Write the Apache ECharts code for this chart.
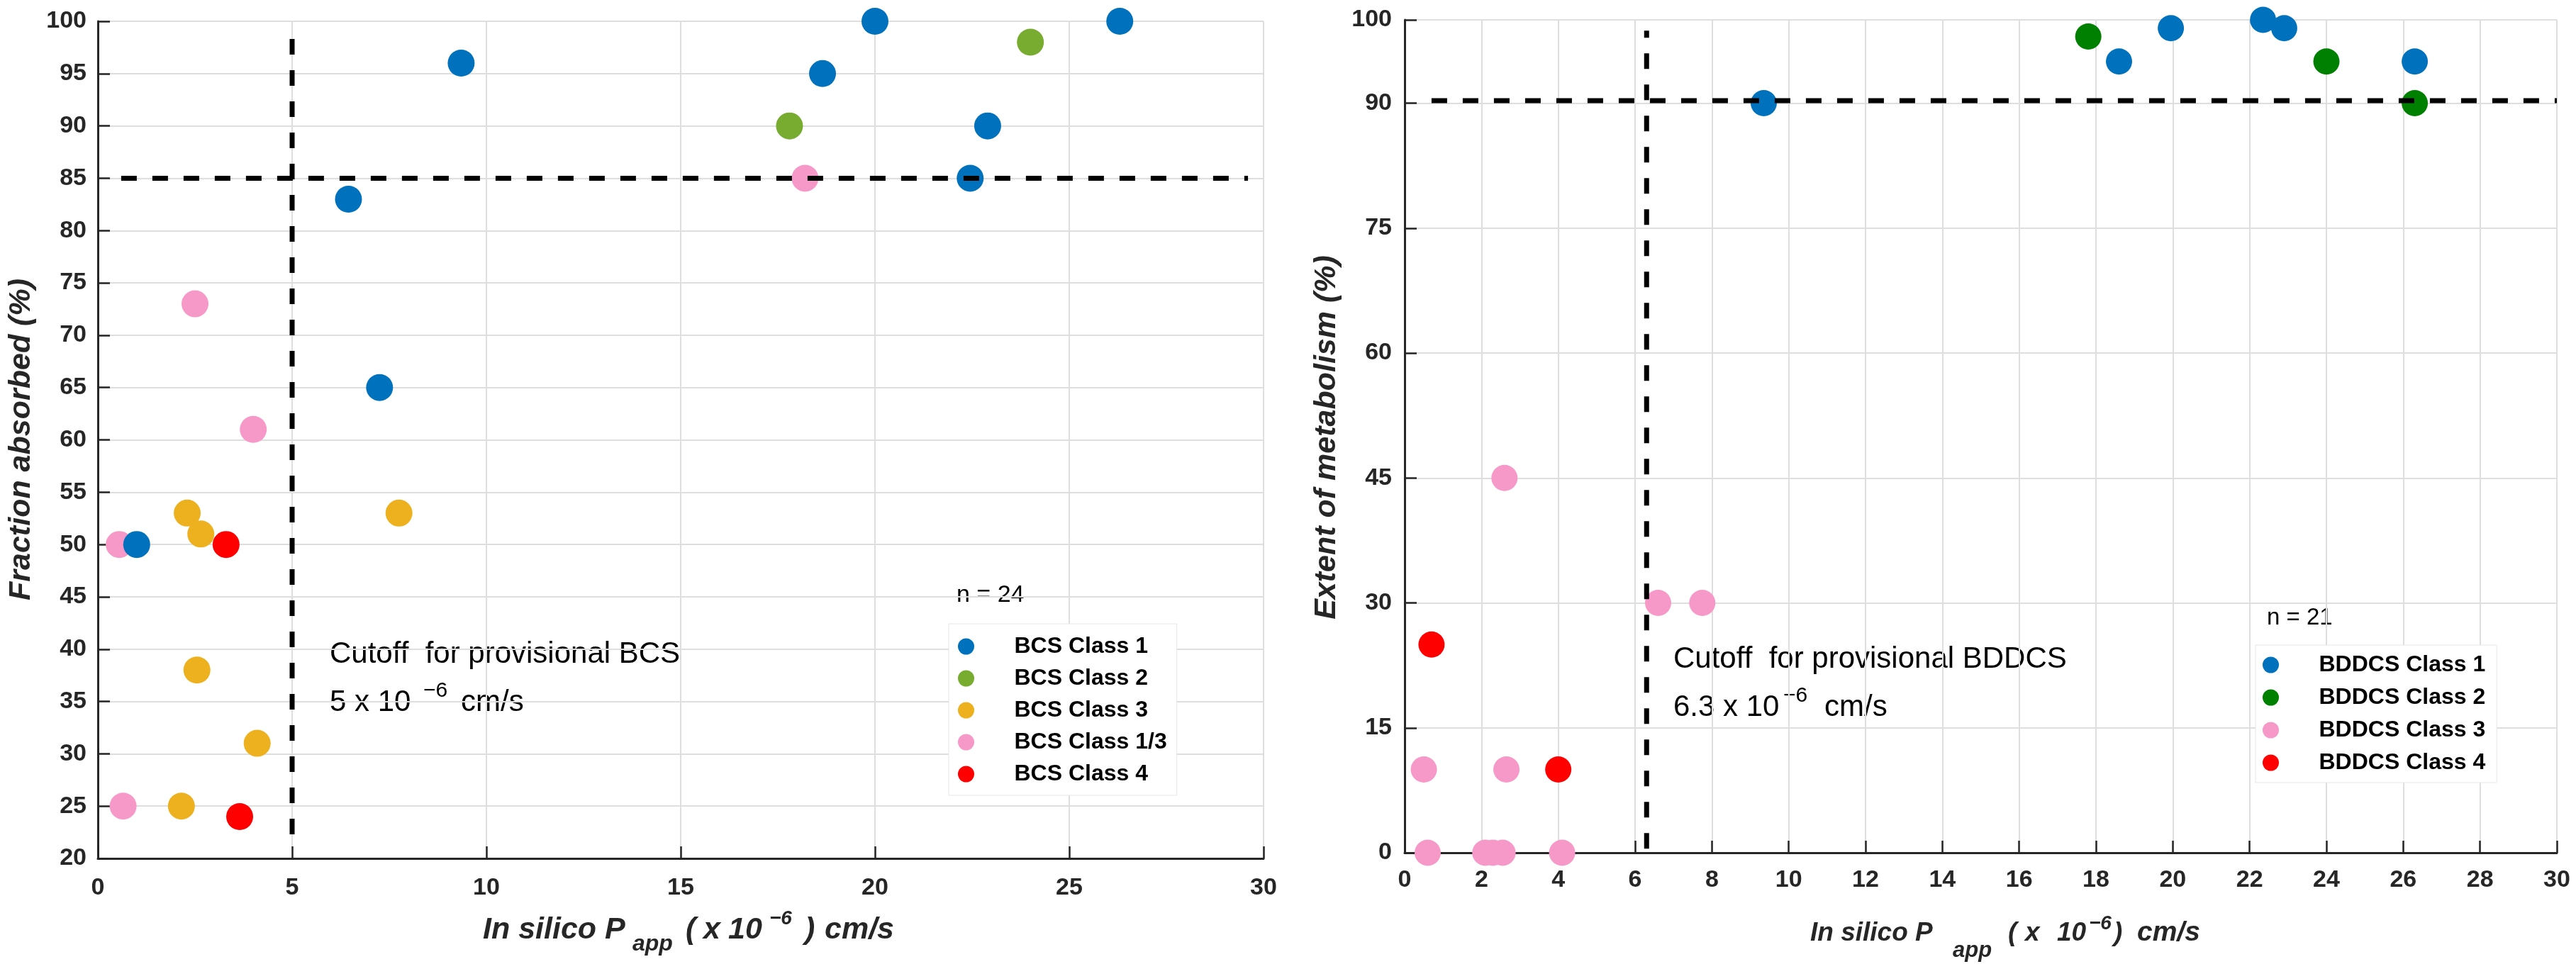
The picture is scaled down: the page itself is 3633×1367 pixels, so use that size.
<!DOCTYPE html>
<html><head><meta charset="utf-8">
<script src="https://cdn.jsdelivr.net/npm/echarts@6/dist/echarts.min.js"></script>
<style>html,body{margin:0;padding:0;background:#fff}#c{width:3633px;height:1367px}</style>
</head><body><div id="c"></div>
<script>
// ---------- Left panel (BCS) data: [Papp (x10^-6 cm/s), fraction absorbed %] ----------
const bcsClass1  = [[1.0,50],[6.45,83],[7.25,65],[9.35,96],[18.65,95],[20.0,100],[22.45,85],[22.9,90],[26.3,100]];
const bcsClass2  = [[17.8,90],[24.0,98]];
const bcsClass3  = [[2.3,53],[2.65,51],[2.55,38],[2.15,25],[4.1,31],[7.75,53]];
const bcsClass13 = [[0.55,50],[2.5,73],[4.0,61],[0.65,25],[18.2,85]];
const bcsClass4  = [[3.3,50],[3.65,24]];
// ---------- Right panel (BDDCS) data: [Papp, extent of metabolism %] ----------
const bddcsClass1 = [[9.35,90],[18.6,95],[19.95,99],[22.35,100],[22.9,99],[26.3,95]];
const bddcsClass2 = [[17.8,98],[24.0,95],[26.3,90]];
const bddcsClass3 = [[0.5,10],[0.6,0],[2.1,0],[2.3,0],[2.55,0],[2.6,45],[2.65,10],[4.1,0],[6.6,30],[7.75,30]];
const bddcsClass4 = [[0.7,25],[4.0,10]];
// ---------- Cutoff lines ----------
const bcsCutoffV   = [[5,22.3],[5,99.5]];
const bcsCutoffH   = [[0.6,85],[29.6,85]];
const bddcsCutoffV = [[6.3,0.5],[6.3,98.7]];
const bddcsCutoffH = [[0.7,90.3],[30,90.3]];
// ---------- Axis ranges / ticks ----------
const leftX  = {min:0, max:30, interval:5};
const leftY  = {min:20, max:100, interval:5};
const rightX = {min:0, max:30, interval:2};
const rightY = {min:0, max:100, interval:15};
// ---------- Names ----------
const bcsNames   = ['BCS Class 1','BCS Class 2','BCS Class 3','BCS Class 1/3','BCS Class 4'];
const bddcsNames = ['BDDCS Class 1','BDDCS Class 2','BDDCS Class 3','BDDCS Class 4'];

const FF = '"Liberation Sans", Arial, Helvetica, sans-serif';
const AX = '#262626';
const C = {blue:'#0072BD', green:'#77AC30', dgreen:'#008000', yellow:'#EDB120', pink:'#F799C8', red:'#FF0000'};

function xAxis(g, r, margin){
  return {type:'value', gridIndex:g, min:r.min, max:r.max, interval:r.interval,
    axisLine:{show:true, onZero:false, lineStyle:{color:AX, width:3}},
    axisTick:{show:true, inside:true, length:17, lineStyle:{color:AX, width:2.5}},
    axisLabel:{show:true, fontSize:34, fontWeight:'bold', color:AX, fontFamily:FF, margin:margin},
    splitLine:{show:true, lineStyle:{color:'#dedede', width:2}}};
}
function yAxis(g, r, margin){
  return {type:'value', gridIndex:g, min:r.min, max:r.max, interval:r.interval,
    axisLine:{show:true, onZero:false, lineStyle:{color:AX, width:3}},
    axisTick:{show:true, inside:true, length:17, lineStyle:{color:AX, width:2.5}},
    axisLabel:{show:true, fontSize:34, fontWeight:'bold', color:AX, fontFamily:FF, margin:margin},
    splitLine:{show:true, lineStyle:{color:'#dedede', width:2}}};
}
function sc(name, data, color, gi, size){
  return {type:'scatter', name:name, data:data, xAxisIndex:gi, yAxisIndex:gi, symbol:'circle',
    symbolSize:size, itemStyle:{color:color, opacity:1}, z:3, silent:true};
}
function cut(data, gi){
  return {type:'line', data:data, xAxisIndex:gi, yAxisIndex:gi, symbol:'none', silent:true, z:6,
    lineStyle:{color:'#000', width:7, type:[22,22]}};
}
function legend(names, left, top, padding, gap){
  return {data:names, orient:'vertical', left:left, top:top, padding:padding, itemWidth:126, itemHeight:23,
    itemGap:gap, icon:'circle', backgroundColor:'#fff', borderColor:'#e6e6e6', borderWidth:1, borderRadius:0,
    selectedMode:false, textStyle:{fontSize:32, fontWeight:'bold', color:'#000', fontFamily:FF, lineHeight:34}};
}
// text piece positioned by its left edge and alphabetic baseline
function piece(x, baseline, text, size, fstyle, color){
  const font = (fstyle ? fstyle + ' ' : '') + size + 'px ' + FF;
  return {type:'text', x:x, y:baseline - 0.35*size, silent:true,
    style:{text:text, font:font, fill:color||'#262626', textAlign:'left', align:'left', textVerticalAlign:'middle', verticalAlign:'middle'}};
}
function vtitle(x, y, text){
  return {type:'text', x:x, y:y, rotation:Math.PI/2, silent:true,
    style:{text:text, font:'italic bold 43px '+FF, fill:'#262626', textAlign:'center', align:'center', textVerticalAlign:'middle', verticalAlign:'middle'}};
}
const BI = 'italic bold';

const chart = echarts.init(document.getElementById('c'), null, {renderer:'canvas'});
chart.setOption({
  animation:false,
  backgroundColor:'#fff',
  grid:[
    {left:138, top:30, width:1644, height:1181, containLabel:false, outerBoundsMode:'none'},
    {left:1981, top:28, width:1625, height:1175, containLabel:false, outerBoundsMode:'none'}
  ],
  xAxis:[xAxis(0, leftX, 25), xAxis(1, rightX, 22)],
  yAxis:[yAxis(0, leftY, 16), yAxis(1, rightY, 18)],
  legend:[legend(bcsNames, 1338, 880, [15,14,13,13], 11), legend(bddcsNames, 3181, 910, [11,16,11,10], 12)],
  series:[
    sc(bcsNames[3], bcsClass13, C.pink, 0, 38),
    sc(bcsNames[2], bcsClass3, C.yellow, 0, 38),
    sc(bcsNames[4], bcsClass4, C.red, 0, 38),
    sc(bcsNames[1], bcsClass2, C.green, 0, 38),
    sc(bcsNames[0], bcsClass1, C.blue, 0, 38),
    sc(bddcsNames[2], bddcsClass3, C.pink, 1, 37),
    sc(bddcsNames[3], bddcsClass4, C.red, 1, 37),
    sc(bddcsNames[1], bddcsClass2, C.dgreen, 1, 37),
    sc(bddcsNames[0], bddcsClass1, C.blue, 1, 37),
    cut(bcsCutoffV, 0), cut(bcsCutoffH, 0), cut(bddcsCutoffV, 1), cut(bddcsCutoffH, 1)
  ],
  graphic:[
    // y axis titles
    vtitle(30, 620, 'Fraction absorbed (%)'),
    vtitle(1871, 617, 'Extent of metabolism (%)'),
    // left x axis title: In silico P_app ( x 10^-6 ) cm/s
    piece(681, 1327, 'In silico P', 43, BI),
    piece(892, 1343, 'app', 32, BI),
    piece(967, 1327, '(', 43, BI),
    piece(992, 1327, 'x', 43, BI),
    piece(1027, 1327, '10', 43, BI),
    piece(1085, 1306, '\u22126', 28, BI),
    piece(1135, 1327, ')', 43, BI),
    piece(1163, 1327, 'cm/s', 43, BI),
    // right x axis title: In silico P_app ( x 10^-6) cm/s
    piece(2553, 1330, 'In silico P', 37, BI),
    piece(2754, 1352, 'app', 31, BI),
    piece(2832, 1330, '(', 37, BI),
    piece(2856, 1330, 'x', 37, BI),
    piece(2901, 1330, '10', 37, BI),
    piece(2946, 1313, '\u22126', 28, BI),
    piece(2981, 1330, ')', 37, BI),
    piece(3014, 1330, 'cm/s', 39, BI),
    // annotations
    piece(465, 938, 'Cutoff  for provisional BCS', 42, '', '#000'),
    piece(465, 1006, '5 x 10', 42, '', '#000'),
    piece(597, 985, '\u22126', 30, '', '#000'),
    piece(650, 1006, 'cm/s', 42, '', '#000'),
    piece(2360, 945, 'Cutoff  for provisional BDDCS', 42, '', '#000'),
    piece(2360, 1013, '6.3 x 10', 42, '', '#000'),
    piece(2515, 992, '\u22126', 30, '', '#000'),
    piece(2573, 1013, 'cm/s', 42, '', '#000'),
    // n labels
    piece(1349, 852, 'n = 24', 34, '', '#000'),
    piece(3197, 883, 'n = 21', 33, '', '#000')
  ]
});
</script></body></html>
